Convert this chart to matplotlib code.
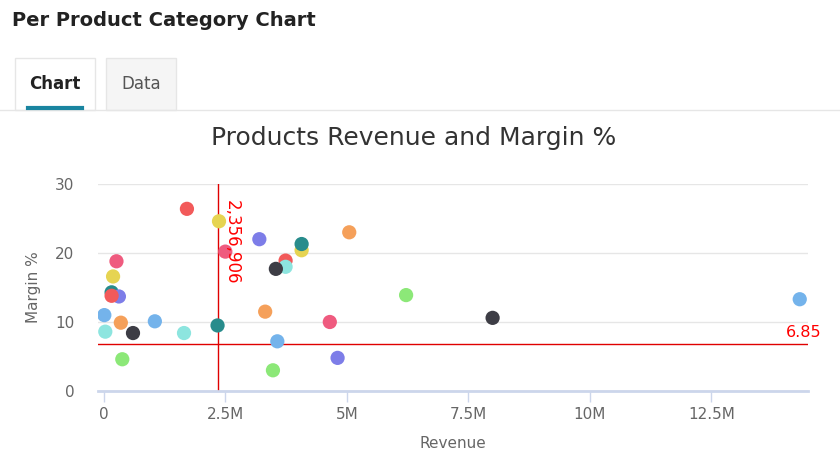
import matplotlib.pyplot as plt
from matplotlib.patches import Rectangle
from matplotlib.ticker import FuncFormatter

# revenue in millions, margin in %
revenue = [1.71, 2.37, 2.50, 3.20, 3.74, 3.74, 3.54, 4.07, 4.07, 5.05, 6.22,
           0.26, 0.19, 0.16, 0.31, 0.16, 0.01, 0.03, 0.35, 0.60, 0.38, 1.05,
           1.65, 2.34, 3.32, 3.57, 3.48, 4.65, 4.81, 8.00, 14.32]
margin = [26.4, 24.6, 20.2, 22.0, 18.9, 18.0, 17.7, 20.4, 21.3, 23.0, 13.9,
          18.8, 16.6, 14.3, 13.7, 13.8, 11.0, 8.6, 9.9, 8.4, 4.6, 10.1,
          8.4, 9.5, 11.5, 7.2, 3.0, 10.0, 4.8, 10.6, 13.3]
colors = ['#f25a5a', '#e6d452', '#ef5b7f', '#7d7de8', '#f25a5a', '#8de5df', '#3d3d45',
          '#e6d452', '#288c8c', '#f5a05a', '#8ce878', '#ef5b7f', '#e6d452', '#288c8c',
          '#7d7de8', '#f25a5a', '#74b3eb', '#8de5df', '#f5a05a', '#3d3d45', '#8ce878',
          '#74b3eb', '#8de5df', '#288c8c', '#f5a05a', '#74b3eb', '#8ce878', '#ef5b7f',
          '#7d7de8', '#3d3d45', '#74b3eb']

avg_revenue = 2.356906
avg_margin = 6.85

fig = plt.figure(figsize=(8.4, 4.62), dpi=100)

# header + tabs
fig.text(12 / 840, 1 - 20 / 462, 'Per Product Category Chart', fontsize=14, fontweight='bold',
         color='#222222', va='center', ha='left')
fig.add_artist(Rectangle((15 / 840, 1 - 110 / 462), 80 / 840, 52 / 462, transform=fig.transFigure,
                         facecolor='white', edgecolor='#e6e6e6', lw=1))
fig.add_artist(Rectangle((106 / 840, 1 - 110 / 462), 70 / 840, 52 / 462, transform=fig.transFigure,
                         facecolor='#f5f5f5', edgecolor='#e6e6e6', lw=1))
fig.add_artist(plt.Line2D([0, 1], [1 - 110 / 462] * 2, transform=fig.transFigure,
                          color='#e6e6e6', lw=1))
fig.add_artist(plt.Line2D([28 / 840, 82 / 840], [1 - 108 / 462] * 2, transform=fig.transFigure,
                          color='#1a85a0', lw=3))
fig.text(55 / 840, 1 - 84 / 462, 'Chart', fontsize=12, fontweight='bold', color='#222222',
         ha='center', va='center')
fig.text(141 / 840, 1 - 84 / 462, 'Data', fontsize=12, color='#555555', ha='center', va='center')

fig.text(414 / 840, 1 - 138 / 462, 'Products Revenue and Margin %', fontsize=18,
         color='#333333', ha='center', va='center')

ax = fig.add_axes([98 / 840, 1 - 391 / 462, 710 / 840, 207 / 462])
ax.scatter(revenue, margin, s=105, c=colors, zorder=3, linewidths=0)
ax.set_xlim(-0.12, 14.49)
ax.set_ylim(0, 30)
ax.set_yticks([0, 10, 20, 30])
ax.set_xticks([0, 2.5, 5, 7.5, 10, 12.5])
ax.xaxis.set_major_formatter(FuncFormatter(lambda v, p: '0' if v == 0 else '%gM' % v))
ax.grid(axis='y', color='#e6e6e6', lw=1)
ax.set_axisbelow(True)
for s in ['top', 'right', 'left']:
    ax.spines[s].set_visible(False)
ax.spines['bottom'].set_color('#ccd6eb')
ax.spines['bottom'].set_linewidth(2)
ax.tick_params(axis='x', colors='#ccd6eb', length=8, width=1, labelcolor='#666666', labelsize=11)
ax.tick_params(axis='y', length=0, labelcolor='#666666', labelsize=11, pad=17)

ax.axvline(avg_revenue, color='#e00000', lw=1, zorder=2)
ax.axhline(avg_margin, color='#e00000', lw=1, zorder=2)
ax.text(avg_revenue + 0.08, 27.7, '{:,}'.format(round(avg_revenue * 1e6)), rotation=-90,
        color='red', fontsize=12, va='top', ha='left', zorder=4)
ax.text(14.77, avg_margin + 0.5, '%.2f' % avg_margin, color='red', fontsize=11.5,
        ha='right', va='bottom', clip_on=False)

ax.set_xlabel('Revenue', fontsize=11, color='#666666', labelpad=10)
ax.set_ylabel('Margin %', fontsize=11, color='#666666', labelpad=10)

fig.savefig('out.png', dpi=100)
